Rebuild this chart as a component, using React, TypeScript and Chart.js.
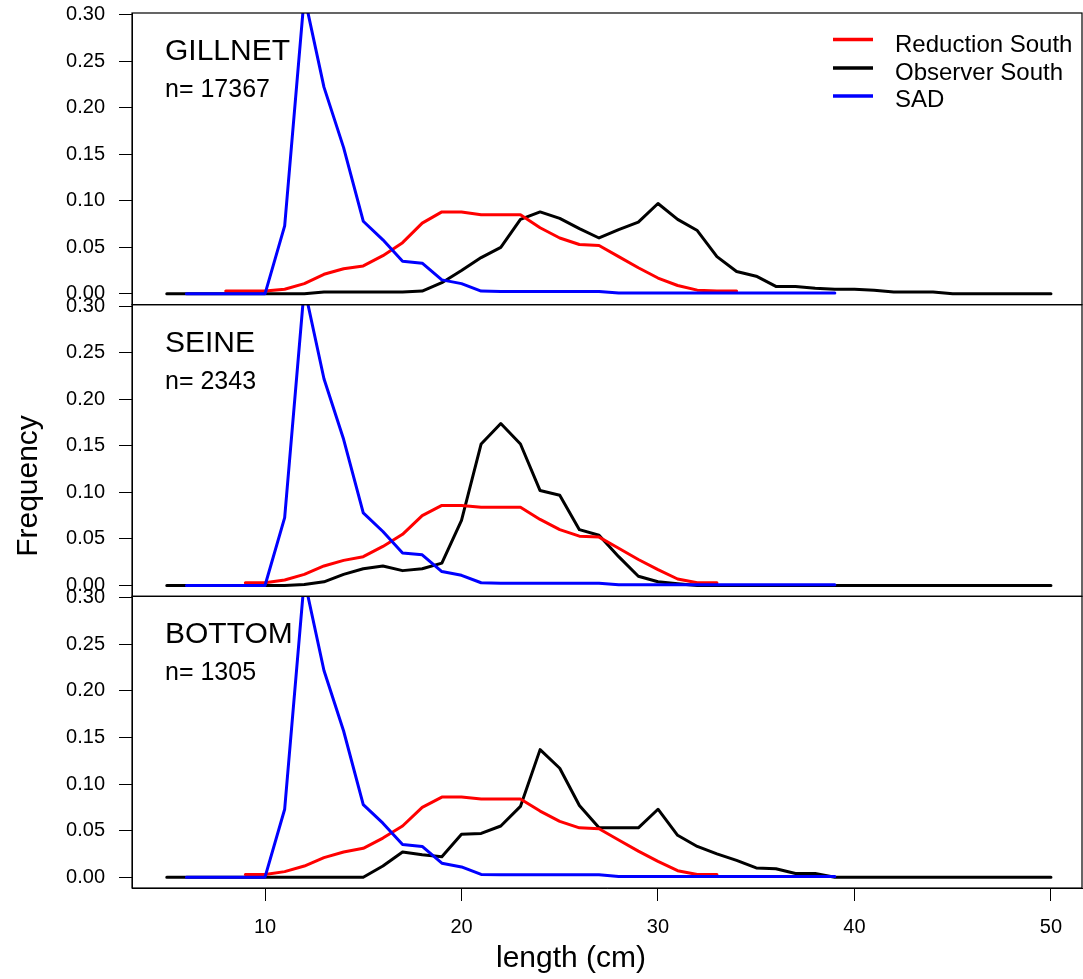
import React, { useEffect, useRef } from 'react';
import { Chart, registerables } from 'chart.js';

Chart.register(...registerables);

// ---- data ----
const OBS_LEN = [5, 6, 7, 8, 9, 10, 11, 12, 13, 14, 15, 16, 17, 18, 19, 20, 21, 22, 23, 24, 25, 26, 27, 28, 29, 30, 31, 32, 33, 34, 35, 36, 37, 38, 39, 40, 41, 42, 43, 44, 45, 46, 47, 48, 49, 50];
const OBS_GILLNET = [0, 0, 0, 0, 0, 0, 0, 0, 0.002, 0.002, 0.002, 0.002, 0.002, 0.003, 0.012, 0.025, 0.039, 0.05, 0.08, 0.088, 0.081, 0.07, 0.06, 0.069, 0.077, 0.097, 0.08, 0.068, 0.04, 0.024, 0.019, 0.008, 0.008, 0.006, 0.005, 0.005, 0.004, 0.002, 0.002, 0.002, 0, 0, 0, 0, 0, 0];
const OBS_SEINE = [0, 0, 0, 0, 0, 0, 0, 0.001, 0.004, 0.012, 0.018, 0.021, 0.016, 0.018, 0.024, 0.07, 0.152, 0.174, 0.152, 0.102, 0.097, 0.06, 0.054, 0.031, 0.01, 0.004, 0.002, 0, 0, 0, 0, 0, 0, 0, 0, 0, 0, 0, 0, 0, 0, 0, 0, 0, 0, 0];
const OBS_BOTTOM = [0, 0, 0, 0, 0, 0, 0, 0, 0, 0, 0, 0.012, 0.027, 0.024, 0.022, 0.046, 0.047, 0.055, 0.076, 0.137, 0.117, 0.077, 0.053, 0.053, 0.053, 0.073, 0.045, 0.033, 0.025, 0.018, 0.01, 0.009, 0.004, 0.004, 0, 0, 0, 0, 0, 0, 0, 0, 0, 0, 0, 0];

const RED_TOP_LEN = [8, 9, 10, 11, 12, 13, 14, 15, 16, 17, 18, 19, 20, 21, 22, 23, 24, 25, 26, 27, 28, 29, 30, 31, 32, 33, 34];
const RED_TOP = [0.003, 0.003, 0.003, 0.005, 0.011, 0.021, 0.027, 0.03, 0.041, 0.055, 0.076, 0.088, 0.088, 0.085, 0.085, 0.085, 0.071, 0.06, 0.053, 0.052, 0.04, 0.028, 0.017, 0.009, 0.004, 0.003, 0.003];
const RED_LEN = [9, 10, 11, 12, 13, 14, 15, 16, 17, 18, 19, 20, 21, 22, 23, 24, 25, 26, 27, 28, 29, 30, 31, 32, 33];
const RED = [0.003, 0.003, 0.006, 0.012, 0.021, 0.027, 0.031, 0.042, 0.055, 0.075, 0.086, 0.086, 0.084, 0.084, 0.084, 0.071, 0.06, 0.053, 0.052, 0.04, 0.028, 0.017, 0.007, 0.003, 0.003];

const SAD_LEN = [6, 7, 8, 9, 10, 11, 12, 13, 14, 15, 16, 17, 18, 19, 20, 21, 22, 23, 24, 25, 26, 27, 28, 29, 30, 31, 32, 33, 34, 35, 36, 37, 38, 39];
const SAD = [0, 0, 0, 0, 0, 0.073, 0.32, 0.222, 0.157, 0.078, 0.058, 0.035, 0.033, 0.015, 0.011, 0.003, 0.0025, 0.0025, 0.0025, 0.0025, 0.0025, 0.0025, 0.0008, 0.0008, 0.0008, 0.0008, 0.0008, 0.0008, 0.0008, 0.0008, 0.0008, 0.0008, 0.0008, 0.0008];

const PANEL_NAMES = ['GILLNET', 'SEINE', 'BOTTOM'];
const N_LABELS = ['n= 17367', 'n= 2343', 'n= 1305'];
const LEGEND_LABELS = ['Reduction South', 'Observer South', 'SAD'];
const LEGEND_COLORS = ['#ff0000', '#000000', '#0000ff'];
const Y_TICKS = [0, 0.05, 0.1, 0.15, 0.2, 0.25, 0.3];
const X_TICKS = [10, 20, 30, 40, 50];
const X_TITLE = 'length (cm)';
const Y_TITLE = 'Frequency';

const FONT = '"Liberation Sans", Arial, sans-serif';
const AXIS_IDS = ['yTop', 'yMid', 'yBottom'];

const zip = (xs: number[], ys: number[]) => xs.map((x, i) => ({ x, y: ys[i] }));

const panelPlugin = {
  id: 'panelPlugin',
  beforeDatasetDraw(chart: any, args: any) {
    const ys = args.meta.yScale;
    const ca = chart.chartArea;
    const ctx = chart.ctx;
    ctx.save();
    ctx.beginPath();
    ctx.rect(ca.left, ys.top, ca.right - ca.left, ys.bottom - ys.top);
    ctx.clip();
  },
  afterDatasetDraw(chart: any) {
    chart.ctx.restore();
  },
  afterDraw(chart: any) {
    const ctx = chart.ctx;
    const ca = chart.chartArea;
    ctx.save();
    // panel boxes
    ctx.strokeStyle = '#000';
    ctx.lineWidth = 1.2;
    AXIS_IDS.forEach((id) => {
      const s = chart.scales[id];
      ctx.strokeRect(ca.left, s.top, ca.right - ca.left, s.bottom - s.top);
    });
    // panel texts
    ctx.fillStyle = '#000';
    ctx.textAlign = 'left';
    ctx.textBaseline = 'alphabetic';
    AXIS_IDS.forEach((id, i) => {
      const s = chart.scales[id];
      ctx.font = `30px ${FONT}`;
      ctx.fillText(PANEL_NAMES[i], 165, s.top + 47);
      ctx.font = `25px ${FONT}`;
      ctx.fillText(N_LABELS[i], 165, s.top + 84);
    });
    // legend (top panel)
    const top = chart.scales[AXIS_IDS[0]].top;
    const lineYs = [26.5, 55, 83];
    const textYs = [38.5, 66.5, 94];
    LEGEND_LABELS.forEach((lab, i) => {
      ctx.strokeStyle = LEGEND_COLORS[i];
      ctx.lineWidth = 3.5;
      ctx.beginPath();
      ctx.moveTo(833, top + lineYs[i]);
      ctx.lineTo(873, top + lineYs[i]);
      ctx.stroke();
      ctx.fillStyle = '#000';
      ctx.font = `24px ${FONT}`;
      ctx.fillText(lab, 895, top + textYs[i]);
    });
    // axis titles
    ctx.font = `30px ${FONT}`;
    ctx.textAlign = 'center';
    ctx.fillText(X_TITLE, 571, 966.5);
    ctx.save();
    ctx.translate(36.5, 486);
    ctx.rotate(-Math.PI / 2);
    ctx.fillText(Y_TITLE, 0, 0);
    ctx.restore();
    ctx.restore();
  },
};

function yScale(id: string) {
  return {
    type: 'linear',
    position: 'left',
    stack: 'panels',
    stackWeight: 1,
    min: -0.0116,
    max: 0.3016,
    afterBuildTicks: (scale: any) => {
      scale.ticks = Y_TICKS.map((v) => ({ value: v }));
    },
    afterFit: (scale: any) => {
      scale.width = 132;
      scale.paddingTop = 0;
      scale.paddingBottom = 0;
    },
    ticks: {
      autoSkip: false,
      padding: 14,
      color: '#000',
      font: { family: FONT, size: 20 },
      callback: (v: any) => Number(v).toFixed(2),
    },
    grid: {
      drawOnChartArea: false,
      drawTicks: true,
      tickLength: 13,
      color: '#000',
      lineWidth: 1,
    },
    border: { display: true, color: '#000', width: 1 },
  };
}

export default function App() {
  const ref = useRef<HTMLCanvasElement | null>(null);
  useEffect(() => {
    if (!ref.current) return;
    const obs = [OBS_GILLNET, OBS_SEINE, OBS_BOTTOM];
    const datasets: any[] = [];
    AXIS_IDS.forEach((id, p) => {
      const common = {
        yAxisID: id,
        xAxisID: 'x',
        pointRadius: 0,
        borderWidth: 3,
        tension: 0,
        fill: false,
        clip: false,
        borderJoinStyle: 'round',
        borderCapStyle: 'round',
      };
      datasets.push({ ...common, label: `Observer ${p}`, data: zip(OBS_LEN, obs[p]), borderColor: '#000000', order: 2 });
      datasets.push({
        ...common,
        label: `Reduction ${p}`,
        data: p === 0 ? zip(RED_TOP_LEN, RED_TOP) : zip(RED_LEN, RED),
        borderColor: '#ff0000',
        order: 1,
      });
      datasets.push({ ...common, label: `SAD ${p}`, data: zip(SAD_LEN, SAD), borderColor: '#0000ff', order: 0 });
    });

    const chart = new Chart(ref.current, {
      type: 'line',
      data: { datasets },
      options: {
        responsive: false,
        animation: false,
        events: [],
        layout: { padding: { top: 13, right: 1, left: 0, bottom: 0 } },
        plugins: { legend: { display: false }, tooltip: { enabled: false } },
        scales: {
          x: {
            type: 'linear',
            position: 'bottom',
            min: 3.23,
            max: 51.58,
            afterBuildTicks: (scale: any) => {
              scale.ticks = X_TICKS.map((v) => ({ value: v }));
            },
            afterFit: (scale: any) => {
              scale.height = 91;
              scale.paddingLeft = 0;
              scale.paddingRight = 0;
            },
            ticks: {
              autoSkip: false,
              maxRotation: 0,
              padding: 14,
              color: '#000',
              font: { family: FONT, size: 20 },
              callback: (v: any) => String(v),
            },
            grid: { drawOnChartArea: false, tickLength: 13, color: '#000', lineWidth: 1 },
            border: { display: true, color: '#000', width: 1 },
          },
          yBottom: yScale('yBottom'),
          yMid: yScale('yMid'),
          yTop: yScale('yTop'),
        } as any,
      },
      plugins: [panelPlugin],
    } as any);
    return () => chart.destroy();
  }, []);

  return (
    <div style={{ position: 'absolute', left: 0, top: 0, width: 1083, height: 979, background: '#fff' }}>
      <canvas ref={ref} width={1083} height={979} style={{ display: 'block' }} />
    </div>
  );
}
